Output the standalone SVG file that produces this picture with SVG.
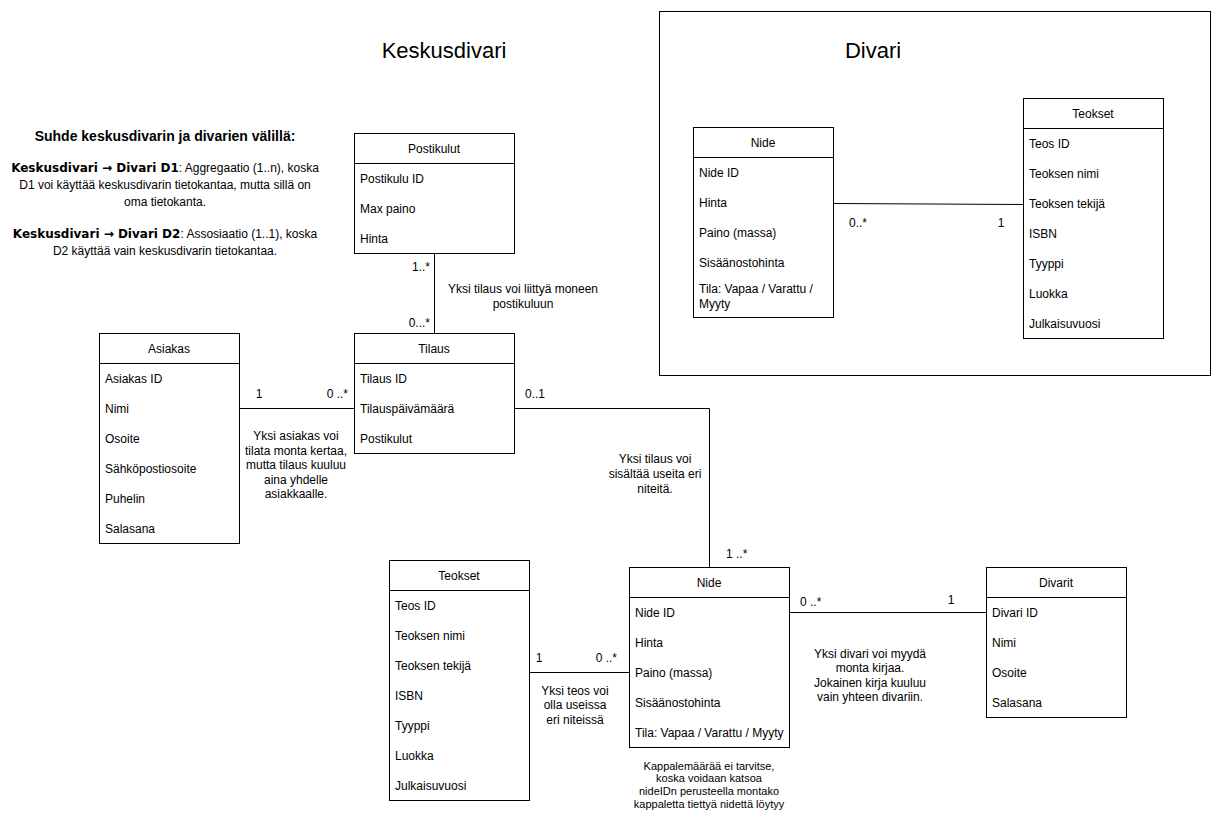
<svg xmlns="http://www.w3.org/2000/svg" width="1220" height="822" viewBox="0 0 1220 822">
<style>
text{font-family:"Liberation Sans",Arial,sans-serif;font-size:12px;fill:#000}
.box{fill:#fff;stroke:#000;stroke-width:1}
.c{text-anchor:middle}
.e{text-anchor:end}
.t{font-size:22px}
.s{font-size:11px}
.b{font-weight:bold}
.hb{font-family:"DejaVu Sans",Verdana,sans-serif;font-weight:bold;font-size:12px}
.ln{fill:none;stroke:#000;stroke-width:1}
</style>
<rect width="1220" height="822" fill="#fff"/>
<rect x="659.5" y="11.5" width="551" height="364" class="box"/>
<text x="444" y="58" class="c t">Keskusdivari</text>
<text x="873" y="58" class="c t">Divari</text>

<g id="relation-text">
<text x="165" y="141" class="c b" style="font-size:14px">Suhde keskusdivarin ja divarien välillä:</text>
<text x="165" y="172" class="c"><tspan class="hb">Keskusdivari → Divari D1</tspan>: Aggregaatio (1..n), koska</text>
<text x="165" y="189" class="c">D1 voi käyttää keskusdivarin tietokantaa, mutta sillä on</text>
<text x="165" y="206" class="c">oma tietokanta.</text>
<text x="165" y="238" class="c"><tspan class="hb">Keskusdivari → Divari D2</tspan>: Assosiaatio (1..1), koska</text>
<text x="165" y="255" class="c">D2 käyttää vain keskusdivarin tietokantaa.</text>
</g>

<g id="connectors">
<line x1="434.5" y1="253" x2="434.5" y2="333" class="ln"/>
<line x1="239" y1="408.5" x2="354" y2="408.5" class="ln"/>
<polyline points="514,408.5 709.5,408.5 709.5,567" class="ln"/>
<line x1="529" y1="672.5" x2="629" y2="672.5" class="ln"/>
<line x1="789" y1="612.5" x2="986" y2="612.5" class="ln"/>
<line x1="833" y1="203.5" x2="1023" y2="204.5" class="ln"/>
<text x="430" y="271" class="e">1..*</text>
<text x="430" y="327" class="e">0...*</text>
<text x="523" y="293" class="c">Yksi tilaus voi liittyä moneen</text>
<text x="523" y="308" class="c">postikuluun</text>
<text x="259" y="398" class="c">1</text>
<text x="348" y="398" class="e">0 ..*</text>
<text x="296" y="440" class="c">Yksi asiakas voi</text>
<text x="296" y="455" class="c">tilata monta kertaa,</text>
<text x="296" y="469" class="c">mutta tilaus kuuluu</text>
<text x="296" y="484" class="c">aina yhdelle</text>
<text x="296" y="498" class="c">asiakkaalle.</text>
<text x="525" y="398">0..1</text>
<text x="655" y="463" class="c">Yksi tilaus voi</text>
<text x="655" y="478" class="c">sisältää useita eri</text>
<text x="655" y="493" class="c">niteitä.</text>
<text x="726" y="558">1 ..*</text>
<text x="539" y="662" class="c">1</text>
<text x="617" y="662" class="e">0 ..*</text>
<text x="575" y="695" class="c">Yksi teos voi</text>
<text x="575" y="709" class="c">olla useissa</text>
<text x="575" y="724" class="c">eri niteissä</text>
<text x="800" y="606">0 ..*</text>
<text x="951" y="604" class="c">1</text>
<text x="870" y="658" class="c">Yksi divari voi myydä</text>
<text x="870" y="672" class="c">monta kirjaa.</text>
<text x="870" y="687" class="c">Jokainen kirja kuuluu</text>
<text x="870" y="701" class="c">vain yhteen divariin.</text>
<text x="849" y="227">0..*</text>
<text x="1001" y="227" class="c">1</text>
<text x="709" y="770" class="c s">Kappalemäärää ei tarvitse,</text>
<text x="709" y="782" class="c s">koska voidaan katsoa</text>
<text x="709" y="795" class="c s">nideIDn perusteella montako</text>
<text x="709" y="808" class="c s">kappaletta tiettyä nidettä löytyy</text>
</g>

<g id="postikulut">
<rect x="354.5" y="133.5" width="160" height="120" class="box"/>
<line x1="354.5" y1="163.5" x2="514.5" y2="163.5" class="ln"/>
<text x="434" y="153" class="c">Postikulut</text>
<text x="360" y="183">Postikulu ID</text>
<text x="360" y="213">Max paino</text>
<text x="360" y="243">Hinta</text>
</g>

<g id="tilaus">
<rect x="354.5" y="333.5" width="160" height="120" class="box"/>
<line x1="354.5" y1="363.5" x2="514.5" y2="363.5" class="ln"/>
<text x="434" y="353" class="c">Tilaus</text>
<text x="360" y="383">Tilaus ID</text>
<text x="360" y="413">Tilauspäivämäärä</text>
<text x="360" y="443">Postikulut</text>
</g>

<g id="asiakas">
<rect x="99.5" y="333.5" width="140" height="210" class="box"/>
<line x1="99.5" y1="363.5" x2="239.5" y2="363.5" class="ln"/>
<text x="169" y="353" class="c">Asiakas</text>
<text x="105" y="383">Asiakas ID</text>
<text x="105" y="413">Nimi</text>
<text x="105" y="443">Osoite</text>
<text x="105" y="473">Sähköpostiosoite</text>
<text x="105" y="503">Puhelin</text>
<text x="105" y="533">Salasana</text>
</g>

<g id="divari-nide">
<rect x="693.5" y="127.5" width="140" height="190" class="box"/>
<line x1="693.5" y1="157.5" x2="833.5" y2="157.5" class="ln"/>
<text x="763" y="147" class="c">Nide</text>
<text x="699" y="177">Nide ID</text>
<text x="699" y="207">Hinta</text>
<text x="699" y="237">Paino (massa)</text>
<text x="699" y="267">Sisäänostohinta</text>
<text x="699" y="293">Tila: Vapaa / Varattu /</text>
<text x="699" y="308">Myyty</text>
</g>

<g id="divari-teokset">
<rect x="1023.5" y="98.5" width="140" height="240" class="box"/>
<line x1="1023.5" y1="128.5" x2="1163.5" y2="128.5" class="ln"/>
<text x="1093" y="118" class="c">Teokset</text>
<text x="1029" y="148">Teos ID</text>
<text x="1029" y="178">Teoksen nimi</text>
<text x="1029" y="208">Teoksen tekijä</text>
<text x="1029" y="238">ISBN</text>
<text x="1029" y="268">Tyyppi</text>
<text x="1029" y="298">Luokka</text>
<text x="1029" y="328">Julkaisuvuosi</text>
</g>

<g id="teokset">
<rect x="389.5" y="560.5" width="140" height="240" class="box"/>
<line x1="389.5" y1="590.5" x2="529.5" y2="590.5" class="ln"/>
<text x="459" y="580" class="c">Teokset</text>
<text x="395" y="610">Teos ID</text>
<text x="395" y="640">Teoksen nimi</text>
<text x="395" y="670">Teoksen tekijä</text>
<text x="395" y="700">ISBN</text>
<text x="395" y="730">Tyyppi</text>
<text x="395" y="760">Luokka</text>
<text x="395" y="790">Julkaisuvuosi</text>
</g>

<g id="nide">
<rect x="629.5" y="567.5" width="160" height="180" class="box"/>
<line x1="629.5" y1="597.5" x2="789.5" y2="597.5" class="ln"/>
<text x="709" y="587" class="c">Nide</text>
<text x="635" y="617">Nide ID</text>
<text x="635" y="647">Hinta</text>
<text x="635" y="677">Paino (massa)</text>
<text x="635" y="707">Sisäänostohinta</text>
<text x="635" y="737">Tila: Vapaa / Varattu / Myyty</text>
</g>

<g id="divarit">
<rect x="986.5" y="567.5" width="140" height="150" class="box"/>
<line x1="986.5" y1="597.5" x2="1126.5" y2="597.5" class="ln"/>
<text x="1056" y="587" class="c">Divarit</text>
<text x="992" y="617">Divari ID</text>
<text x="992" y="647">Nimi</text>
<text x="992" y="677">Osoite</text>
<text x="992" y="707">Salasana</text>
</g>
</svg>
